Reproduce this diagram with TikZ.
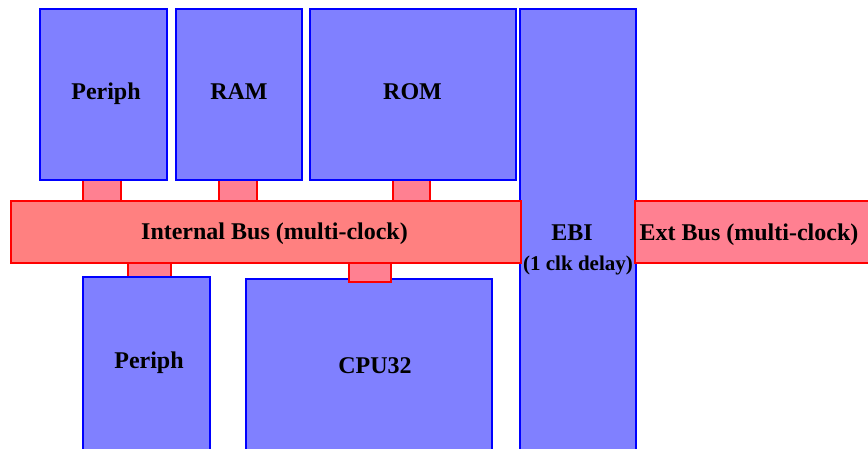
\documentclass[tikz,border=0pt]{standalone}
\usepackage{fontspec}
\setmainfont{Liberation Serif}
\definecolor{blkfill}{RGB}{128,128,255}
\definecolor{busfill}{RGB}{255,128,128}
\definecolor{stubfill}{RGB}{255,128,145}
\tikzset{
  blk/.style={draw=blue, fill=blkfill, line width=2.4pt, rectangle, inner sep=0pt},
  bus/.style={draw=red, fill=busfill, line width=2.4pt, rectangle, inner sep=0pt},
  stub/.style={draw=red, fill=stubfill, line width=2.4pt, rectangle, inner sep=0pt},
  lbl/.style={anchor=base, inner sep=0pt, font=\fontsize{24}{28}\selectfont\bfseries},
  lblsmall/.style={anchor=base, inner sep=0pt, font=\fontsize{21}{24}\selectfont\bfseries},
}
% place a rectangle node by its corners (x1,y1)-(x2,y2), y measured downwards
\newcommand{\boxat}[6]{%
  \node[#1, minimum width={(#5)-(#3)}, minimum height={(#6)-(#4)}] (#2)
    at ({((#3)+(#5))/2}, {((#4)+(#6))/2}) {};}
\begin{document}
\begin{tikzpicture}[x=1pt, y=-1pt]
  \useasboundingbox (0,0) rectangle (868,448);
  \clip (0,0) rectangle (868,448);
  % links from the blocks to the internal bus
  \boxat{stub}{sPeriphA}{83}{180}{121}{201}
  \boxat{stub}{sRam}{219}{180}{257}{201}
  \boxat{stub}{sRom}{393}{180}{430}{201}
  \boxat{stub}{sPeriphB}{128}{263}{171}{277}
  % blocks
  \boxat{blk}{periphA}{40}{9}{167}{180}
  \boxat{blk}{ram}{176}{9}{302}{180}
  \boxat{blk}{rom}{310}{9}{516}{180}
  \boxat{blk}{ebi}{520}{9}{636}{470}
  \boxat{blk}{periphB}{83}{277}{210}{470}
  \boxat{blk}{cpu}{246}{279}{492}{470}
  \boxat{stub}{sCpu}{349}{263}{391}{282}
  % buses
  \boxat{bus}{ibus}{11}{201}{521}{263}
  \boxat{stub}{ebus}{635}{201}{880}{263}
  % labels
  \node[lbl] (tPeriphA) at (106,99) {Periph};
  \node[lbl] (tRam) at (239,99) {RAM};
  \node[lbl] (tRom) at (412.5,99) {ROM};
  \node[lbl] (tIbus) at (274.5,239) {Internal Bus (multi-clock)};
  \node[lbl] (tEbi) at (572,240) {EBI};
  \node[lblsmall] (tDelay) at (578,270) {(1 clk delay)};
  \node[lbl] (tEbus) at (749,240) {Ext Bus (multi-clock)};
  \node[lbl] (tPeriphB) at (149,368) {Periph};
  \node[lbl] (tCpu) at (375,373) {CPU32};
\end{tikzpicture}
\end{document}
